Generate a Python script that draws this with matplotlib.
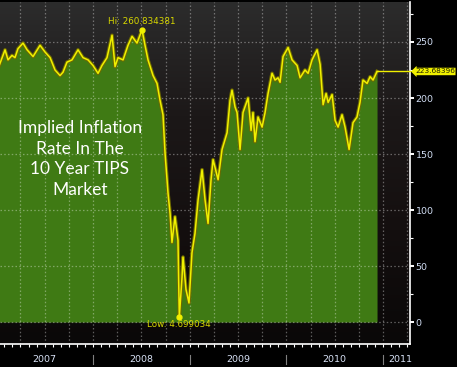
import numpy as np
import matplotlib
matplotlib.use('Agg')
import matplotlib.pyplot as plt
import matplotlib.transforms as mtransforms
from matplotlib.colors import LinearSegmentedColormap
from matplotlib import font_manager

# ---- data (decimal years, breakeven in basis points) ----
dec_years = [
    2007.030, 2007.090, 2007.121, 2007.162, 2007.193, 2007.224, 2007.276, 2007.318,
    2007.380, 2007.452, 2007.504, 2007.556, 2007.607, 2007.659, 2007.690, 2007.731,
    2007.783, 2007.845, 2007.897, 2007.949, 2008.000, 2008.052, 2008.093, 2008.145,
    2008.197, 2008.228, 2008.259, 2008.311, 2008.362, 2008.404, 2008.455, 2008.507,
    2008.538, 2008.569, 2008.621, 2008.662, 2008.693, 2008.724, 2008.745, 2008.776,
    2008.797, 2008.817, 2008.848, 2008.879, 2008.886, 2008.893, 2008.921, 2008.931,
    2008.962, 2008.993, 2009.024, 2009.055, 2009.087, 2009.128, 2009.159, 2009.190,
    2009.221, 2009.242, 2009.294, 2009.335, 2009.387, 2009.418, 2009.438, 2009.469,
    2009.490, 2009.521, 2009.552, 2009.604, 2009.635, 2009.655, 2009.676, 2009.707,
    2009.749, 2009.780, 2009.811, 2009.852, 2009.883, 2009.914, 2009.935, 2009.966,
    2010.018, 2010.059, 2010.111, 2010.142, 2010.193, 2010.225, 2010.266, 2010.318,
    2010.349, 2010.380, 2010.411, 2010.432, 2010.473, 2010.504, 2010.535, 2010.576,
    2010.607, 2010.649, 2010.690, 2010.731, 2010.762, 2010.793, 2010.835, 2010.866,
    2010.897, 2010.938,
]
values = [
    229, 243, 234, 238, 236, 244, 249, 243,
    237, 247, 241, 236, 225, 220, 223, 232,
    234, 243, 236, 234, 229, 222, 229, 236,
    256, 228, 236, 234, 247, 255, 249, 260.834381,
    247, 234, 220, 213, 198, 185, 151, 115,
    97, 71, 94, 73, 37, 4.699034, 40, 58,
    29, 17, 62, 79, 109, 136, 109, 88,
    127, 145, 127, 154, 169, 198, 207, 192,
    187, 154, 187, 200, 171, 187, 161, 183,
    174, 187, 204, 222, 216, 218, 214, 237,
    245, 234, 229, 218, 225, 222, 234, 243,
    230, 194, 204, 196, 203, 180, 174, 185,
    174, 154, 178, 183, 196, 216, 213, 219,
    216, 223.68396,
]
year_labels = ['2007', '2008', '2009', '2010', '2011']
year_label_pos = [2007.5, 2008.5, 2009.5, 2010.5, 2011.176]
year_bounds = [2008, 2009, 2010, 2011]
yticks = [0, 50, 100, 150, 200, 250]
hi_value = 260.834381
lo_value = 4.699034
last_value = 223.68396
hi_label = 'Hi: 260.834381'
lo_label = 'Low: 4.699034'
last_label = '223.68396'
title_text = 'Implied Inflation\nRate In The\n10 Year TIPS\nMarket'

GREEN = '#3f7a14'
YELLOW = '#f0f000'

avail = {f.name for f in font_manager.fontManager.ttflist}
NARROW = ['Liberation Sans Narrow'] if 'Liberation Sans Narrow' in avail else []
SMALLFONT = NARROW + ['DejaVu Sans']
sm = 7.5 if NARROW else 6.8

fig = plt.figure(figsize=(4.57, 3.67), dpi=100, facecolor='black')
ax = fig.add_axes([0, 23/367, 410/457, 342/367])
ax.set_xlim(2007.038, 2011.279)
ax.set_ylim(-19.6, 285.7)

# background gradient
cmap = LinearSegmentedColormap.from_list('bg', ['#0a0808', '#140f0f', '#1c1818', '#2c2c2c'])
grad = np.linspace(0, 1, 256).reshape(-1, 1)
ax.imshow(grad, extent=[0, 1, 0, 1], transform=ax.transAxes, origin='lower',
          aspect='auto', cmap=cmap, zorder=0)

x = np.array(dec_years)
y = np.array(values)
ax.fill_between(x, 0, y, color=GREEN, zorder=1, lw=0)
ax.plot(x, y, color='#6e6a00', lw=2.6, zorder=3, solid_joinstyle='round')
ax.plot(x, y, color=YELLOW, lw=1.1, zorder=4, solid_joinstyle='round')

# grid
quarters = np.arange(2007.25, 2011.3, 0.25)
ax.set_xticks(quarters)
ax.set_xticks(np.arange(2007 + 1/12, 2011.28, 1/12), minor=True)
ax.set_yticks(yticks)
ax.set_yticks(np.arange(25, 285, 50), minor=True)
ax.grid(True, which='major', color='white', alpha=0.35, lw=0.9,
        linestyle=(0, (1.2, 1.8)), zorder=2)
ax.tick_params(axis='x', which='both', length=2.5, width=0.8, color='white',
               labelbottom=False, direction='out')
ax.yaxis.tick_right()
ax.tick_params(axis='y', which='major', length=3, width=1.4, color='white',
               labelcolor='#d0dcf2', labelsize=sm, pad=1)
ax.tick_params(axis='y', which='minor', length=2, width=0.8, color='white')
for lab in ax.get_yticklabels():
    lab.set_family(SMALLFONT)

for s in ['top', 'left']:
    ax.spines[s].set_visible(False)
for s in ['bottom', 'right']:
    ax.spines[s].set_color('white')
    ax.spines[s].set_linewidth(1.2)
ax.set_axisbelow(False)

# year labels and separators below axis
blend = mtransforms.blended_transform_factory(ax.transData, ax.transAxes)
for pos, lab in zip(year_label_pos, year_labels):
    ax.text(pos, -0.044, lab, transform=blend, ha='center', va='center',
            color='#d8e2f6', fontsize=sm, clip_on=False, family=SMALLFONT)
for b in year_bounds:
    ax.plot([b, b], [-0.032, -0.058], transform=blend, color='#808080', lw=0.8,
            clip_on=False)

# hi / low markers
i_hi = int(np.argmax(y))
i_lo = int(np.argmin(y))
ax.plot(x[i_hi], y[i_hi], 'o', color=YELLOW, ms=3.5, zorder=5)
ax.plot(x[i_lo], y[i_lo], 'o', color=YELLOW, ms=3.5, zorder=5)
ax.annotate(hi_label, (x[i_hi], hi_value), xytext=(0, 3), textcoords='offset points',
            ha='center', va='bottom', color='#d8d800', fontsize=sm - 0.5,
            family=SMALLFONT, zorder=6)
ax.annotate(lo_label, (x[i_lo], lo_value), xytext=(0, -2), textcoords='offset points',
            ha='center', va='top', color='#d8d800', fontsize=sm - 0.5,
            family=SMALLFONT, zorder=6)

# last value line and tag
ax.plot([x[-1], ax.get_xlim()[1]], [last_value, last_value], color=YELLOW, lw=1,
        zorder=4, clip_on=False)
tb = mtransforms.blended_transform_factory(ax.transAxes, ax.transData)
ax.text(1.012, last_value, last_label, transform=tb, ha='left', va='center',
        color='#202000', fontsize=5.3, clip_on=False, family=SMALLFONT,
        bbox=dict(boxstyle='larrow,pad=0.1', fc=YELLOW, ec='none'), zorder=7)

# title text block
ax.text(0.195, 0.541, title_text, transform=ax.transAxes, ha='center', va='center',
        color='white', fontsize=12.5, linespacing=1.35, family=['Lato', 'DejaVu Sans'],
        zorder=6)

fig.savefig('out.png', dpi=100, facecolor='black')
